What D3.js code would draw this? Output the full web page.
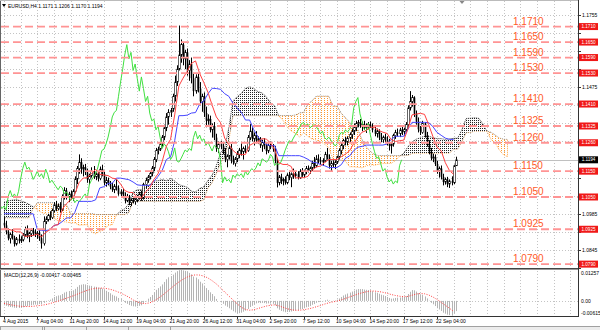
<!DOCTYPE html>
<html><head><meta charset="utf-8">
<script src="https://cdn.jsdelivr.net/npm/d3@7"></script>
<style>body{margin:0;background:#fff}svg{display:block}text{font-family:"Liberation Sans",Arial,sans-serif}</style>
</head><body><svg id="c" width="600" height="330"></svg>
<script>
// ---------- DATA ----------
const title = "EURUSD,H4  1.1171 1.1206 1.1170 1.1194";
const macdTitle = "MACD(12,26,9) -0.00417 -0.00465";
// H4 candles [open, high, low, close], bar 0 = 4 Aug 2015 12:00
const candles = [
[1.0950,1.0972,1.0928,1.0940],[1.0940,1.0958,1.0905,1.0915],[1.0915,1.0930,1.0882,1.0890],
[1.0890,1.0912,1.0870,1.0905],[1.0905,1.0925,1.0885,1.0892],[1.0892,1.0900,1.0858,1.0868],[1.0868,1.0895,1.0862,1.0888],[1.0888,1.0905,1.0870,1.0880],[1.0880,1.0898,1.0872,1.0885],
[1.0885,1.0910,1.0878,1.0902],[1.0902,1.0935,1.0895,1.0925],[1.0925,1.0940,1.0890,1.0898],[1.0898,1.0915,1.0875,1.0908],[1.0908,1.0928,1.0895,1.0920],[1.0920,1.0930,1.0900,1.0915],
[1.0915,1.0925,1.0895,1.0905],[1.0905,1.0918,1.0888,1.0910],[1.0910,1.0922,1.0880,1.0890],[1.0890,1.0905,1.0850,1.0870],[1.0870,1.0975,1.0862,1.0955],[1.0955,1.0975,1.0945,1.0965],
[1.0962,1.0985,1.0955,1.0978],[1.0978,1.0995,1.0960,1.0970],[1.0970,1.1005,1.0965,1.0998],[1.0998,1.1030,1.0990,1.1020],[1.1020,1.1035,1.0995,1.1005],[1.1005,1.1025,1.0998,1.1015],
[1.1015,1.1030,1.0990,1.1000],[1.1000,1.1060,1.0995,1.1052],[1.1052,1.1088,1.1040,1.1075],[1.1075,1.1085,1.1040,1.1050],[1.1050,1.1070,1.1030,1.1062],[1.1062,1.1075,1.1040,1.1045],
[1.1045,1.1080,1.1035,1.1072],[1.1072,1.1130,1.1065,1.1120],[1.1120,1.1170,1.1100,1.1160],[1.1160,1.1215,1.1140,1.1185],[1.1185,1.1200,1.1140,1.1158],[1.1158,1.1175,1.1130,1.1165],
[1.1165,1.1178,1.1135,1.1145],[1.1145,1.1160,1.1105,1.1118],[1.1118,1.1140,1.1098,1.1132],[1.1132,1.1165,1.1125,1.1150],[1.1150,1.1170,1.1120,1.1128],[1.1128,1.1145,1.1115,1.1140],
[1.1140,1.1150,1.1110,1.1122],[1.1122,1.1168,1.1115,1.1158],[1.1158,1.1175,1.1130,1.1138],[1.1138,1.1150,1.1095,1.1105],[1.1105,1.1128,1.1090,1.1115],[1.1115,1.1125,1.1095,1.1102],
[1.1100,1.1112,1.1080,1.1090],[1.1090,1.1105,1.1070,1.1078],[1.1078,1.1100,1.1065,1.1092],[1.1092,1.1118,1.1075,1.1085],[1.1085,1.1095,1.1055,1.1062],[1.1062,1.1080,1.1050,1.1070],
[1.1070,1.1082,1.1045,1.1055],[1.1055,1.1068,1.1025,1.1035],[1.1035,1.1062,1.1030,1.1050],[1.1050,1.1058,1.1018,1.1028],[1.1028,1.1045,1.1015,1.1038],[1.1038,1.1048,1.1025,1.1032],
[1.1032,1.1045,1.1020,1.1040],[1.1040,1.1058,1.1030,1.1052],[1.1052,1.1070,1.1040,1.1062],[1.1062,1.1075,1.1035,1.1045],[1.1045,1.1105,1.1040,1.1098],[1.1098,1.1125,1.1085,1.1115],
[1.1115,1.1135,1.1105,1.1128],[1.1128,1.1150,1.1118,1.1142],[1.1142,1.1170,1.1130,1.1162],[1.1162,1.1205,1.1150,1.1195],[1.1195,1.1240,1.1185,1.1230],[1.1230,1.1245,1.1215,1.1235],
[1.1235,1.1262,1.1228,1.1255],[1.1255,1.1290,1.1245,1.1282],[1.1282,1.1330,1.1270,1.1318],[1.1318,1.1375,1.1305,1.1360],[1.1360,1.1390,1.1330,1.1378],[1.1378,1.1395,1.1360,1.1385],
[1.1390,1.1450,1.1380,1.1440],[1.1440,1.1520,1.1420,1.1495],[1.1495,1.1560,1.1480,1.1545],[1.1545,1.1714,1.1540,1.1600],[1.1600,1.1660,1.1570,1.1640],[1.1640,1.1650,1.1560,1.1585],
[1.1585,1.1620,1.1545,1.1610],[1.1610,1.1625,1.1520,1.1540],[1.1540,1.1580,1.1500,1.1565],[1.1565,1.1590,1.1490,1.1510],[1.1510,1.1530,1.1440,1.1460],[1.1460,1.1525,1.1450,1.1515],
[1.1515,1.1530,1.1455,1.1470],[1.1470,1.1495,1.1405,1.1420],[1.1420,1.1450,1.1380,1.1440],[1.1440,1.1455,1.1360,1.1375],[1.1375,1.1400,1.1320,1.1345],[1.1345,1.1370,1.1330,1.1352],
[1.1352,1.1365,1.1300,1.1310],[1.1310,1.1335,1.1280,1.1325],[1.1325,1.1340,1.1270,1.1280],[1.1280,1.1295,1.1225,1.1238],[1.1238,1.1265,1.1220,1.1255],[1.1255,1.1268,1.1235,1.1245],
[1.1245,1.1262,1.1215,1.1225],[1.1225,1.1240,1.1185,1.1195],[1.1195,1.1215,1.1165,1.1208],[1.1208,1.1250,1.1195,1.1240],[1.1240,1.1255,1.1180,1.1190],[1.1190,1.1210,1.1175,1.1185],
[1.1180,1.1205,1.1168,1.1198],[1.1198,1.1228,1.1185,1.1215],[1.1215,1.1240,1.1200,1.1232],[1.1232,1.1262,1.1210,1.1225],[1.1225,1.1245,1.1195,1.1238],[1.1238,1.1250,1.1220,1.1230],
[1.1230,1.1290,1.1225,1.1280],[1.1280,1.1332,1.1270,1.1305],[1.1305,1.1320,1.1265,1.1275],[1.1275,1.1300,1.1250,1.1290],[1.1290,1.1305,1.1258,1.1268],[1.1268,1.1285,1.1255,1.1275],
[1.1275,1.1282,1.1240,1.1250],[1.1250,1.1272,1.1225,1.1262],[1.1262,1.1278,1.1235,1.1245],[1.1245,1.1262,1.1215,1.1228],[1.1228,1.1258,1.1220,1.1250],[1.1250,1.1265,1.1235,1.1242],
[1.1242,1.1255,1.1225,1.1235],[1.1235,1.1248,1.1180,1.1190],[1.1190,1.1200,1.1087,1.1105],[1.1105,1.1135,1.1095,1.1128],[1.1128,1.1140,1.1100,1.1112],[1.1112,1.1125,1.1095,1.1118],
[1.1118,1.1130,1.1098,1.1105],[1.1105,1.1142,1.1100,1.1135],[1.1135,1.1150,1.1115,1.1125],[1.1125,1.1145,1.1088,1.1140],[1.1140,1.1160,1.1120,1.1132],[1.1132,1.1148,1.1122,1.1140],
[1.1138,1.1150,1.1118,1.1125],[1.1125,1.1158,1.1120,1.1150],[1.1150,1.1162,1.1128,1.1135],[1.1135,1.1155,1.1125,1.1148],[1.1148,1.1170,1.1138,1.1160],[1.1160,1.1172,1.1145,1.1152],
[1.1152,1.1168,1.1140,1.1162],[1.1162,1.1190,1.1150,1.1182],[1.1182,1.1205,1.1160,1.1170],[1.1170,1.1212,1.1165,1.1198],[1.1198,1.1215,1.1180,1.1192],[1.1192,1.1205,1.1175,1.1185],
[1.1185,1.1200,1.1170,1.1192],[1.1192,1.1225,1.1185,1.1215],[1.1215,1.1240,1.1195,1.1205],[1.1205,1.1215,1.1160,1.1172],[1.1172,1.1190,1.1150,1.1180],[1.1180,1.1192,1.1165,1.1175],
[1.1175,1.1192,1.1158,1.1185],[1.1185,1.1210,1.1178,1.1205],[1.1205,1.1238,1.1195,1.1230],[1.1230,1.1262,1.1215,1.1250],[1.1250,1.1275,1.1235,1.1268],[1.1268,1.1282,1.1250,1.1262],
[1.1262,1.1285,1.1250,1.1278],[1.1278,1.1300,1.1262,1.1292],[1.1292,1.1315,1.1275,1.1305],[1.1305,1.1335,1.1290,1.1320],[1.1320,1.1345,1.1305,1.1335],[1.1335,1.1348,1.1320,1.1338],
[1.1338,1.1352,1.1318,1.1325],[1.1325,1.1342,1.1305,1.1332],[1.1332,1.1345,1.1310,1.1318],[1.1318,1.1335,1.1298,1.1325],[1.1325,1.1340,1.1312,1.1330],[1.1330,1.1342,1.1318,1.1322],
[1.1322,1.1335,1.1300,1.1310],[1.1310,1.1325,1.1285,1.1295],[1.1295,1.1315,1.1280,1.1305],[1.1305,1.1312,1.1270,1.1280],[1.1280,1.1298,1.1262,1.1272],[1.1272,1.1288,1.1260,1.1282],
[1.1282,1.1295,1.1262,1.1270],[1.1270,1.1285,1.1250,1.1260],[1.1260,1.1275,1.1230,1.1248],[1.1248,1.1262,1.1218,1.1255],[1.1255,1.1295,1.1245,1.1288],[1.1288,1.1310,1.1275,1.1300],
[1.1300,1.1315,1.1285,1.1295],[1.1295,1.1318,1.1282,1.1310],[1.1310,1.1322,1.1290,1.1302],[1.1302,1.1318,1.1288,1.1312],[1.1312,1.1340,1.1300,1.1330],[1.1330,1.1405,1.1320,1.1395],
[1.1395,1.1460,1.1385,1.1420],[1.1420,1.1445,1.1400,1.1435],[1.1435,1.1440,1.1360,1.1372],[1.1372,1.1385,1.1330,1.1342],[1.1342,1.1358,1.1300,1.1312],[1.1312,1.1325,1.1290,1.1305],
[1.1300,1.1345,1.1295,1.1335],[1.1335,1.1340,1.1280,1.1290],[1.1290,1.1302,1.1245,1.1255],[1.1255,1.1270,1.1215,1.1225],[1.1225,1.1240,1.1192,1.1200],[1.1200,1.1218,1.1185,1.1205],
[1.1205,1.1215,1.1170,1.1178],[1.1178,1.1190,1.1140,1.1150],[1.1150,1.1168,1.1125,1.1160],[1.1160,1.1172,1.1118,1.1128],[1.1128,1.1140,1.1095,1.1108],[1.1108,1.1125,1.1098,1.1118],
[1.1118,1.1128,1.1088,1.1100],[1.1100,1.1118,1.1085,1.1112],[1.1112,1.1130,1.1095,1.1105],[1.1105,1.1175,1.1100,1.1171],[1.1171,1.1206,1.1170,1.1194]
];
// Ichimoku lines, one value every 2 bars (bar 0,2,4,...)
const lineStep = 2;
const tenkan = [1.0930,1.0925,1.0921,1.0915,1.0915,1.0897,1.0899,1.0901,1.0906,1.0895,1.0913,1.0923,1.0940,1.0943,1.1003,1.1024,1.1039,1.1060,1.1105,1.1123,1.1125,1.1140,1.1157,1.1138,1.1135,1.1133,1.1123,1.1120,1.1100,1.1075,1.1068,1.1067,1.1049,1.1045,1.1070,1.1085,1.1118,1.1140,1.1188,1.1247,1.1273,1.1368,1.1480,1.1510,1.1537,1.1567,1.1577,1.1528,1.1493,1.1455,1.1405,1.1360,1.1338,1.1278,1.1253,1.1230,1.1217,1.1214,1.1215,1.1250,1.1259,1.1264,1.1276,1.1274,1.1260,1.1233,1.1183,1.1176,1.1176,1.1168,1.1124,1.1124,1.1125,1.1130,1.1154,1.1166,1.1170,1.1183,1.1195,1.1195,1.1195,1.1206,1.1216,1.1229,1.1257,1.1282,1.1301,1.1307,1.1321,1.1319,1.1308,1.1301,1.1296,1.1272,1.1265,1.1268,1.1270,1.1312,1.1368,1.1371,1.1374,1.1370,1.1330,1.1285,1.1243,1.1229,1.1183,1.1152,1.1138];
const kijun = [1.0985,1.0985,1.0985,1.0985,1.0985,1.0985,1.0985,1.0985,1.0924,1.0920,1.0920,1.0923,1.0940,1.0943,1.0955,1.0969,1.0969,1.0990,1.1033,1.1033,1.1033,1.1033,1.1039,1.1085,1.1090,1.1103,1.1103,1.1123,1.1123,1.1120,1.1117,1.1108,1.1097,1.1095,1.1095,1.1095,1.1110,1.1130,1.1153,1.1195,1.1205,1.1268,1.1365,1.1365,1.1367,1.1375,1.1377,1.1410,1.1422,1.1450,1.1471,1.1470,1.1467,1.1450,1.1440,1.1413,1.1395,1.1378,1.1348,1.1348,1.1310,1.1283,1.1265,1.1253,1.1249,1.1249,1.1210,1.1210,1.1210,1.1210,1.1210,1.1210,1.1204,1.1196,1.1185,1.1183,1.1176,1.1171,1.1164,1.1164,1.1164,1.1175,1.1200,1.1209,1.1230,1.1243,1.1246,1.1251,1.1251,1.1251,1.1251,1.1251,1.1255,1.1273,1.1285,1.1285,1.1285,1.1312,1.1339,1.1339,1.1339,1.1339,1.1338,1.1323,1.1300,1.1289,1.1278,1.1273,1.1273];
// Senkou spans as plotted (already shifted 26 bars ahead), one value every 2 bars
const spanA = [1.1030,1.1035,1.1038,1.1040,1.1035,1.1030,1.1022,1.1012,1.1000,1.0990,1.0985,1.0978,1.0968,1.0958,1.0955,1.0953,1.0950,1.0950,1.0941,1.0942,1.0943,1.0915,1.0908,1.0917,1.0923,1.0940,1.0943,1.0979,1.0997,1.1004,1.1025,1.1069,1.1078,1.1079,1.1087,1.1098,1.1112,1.1113,1.1118,1.1113,1.1122,1.1112,1.1098,1.1093,1.1088,1.1073,1.1070,1.1083,1.1090,1.1114,1.1135,1.1171,1.1221,1.1239,1.1318,1.1423,1.1438,1.1452,1.1471,1.1477,1.1469,1.1458,1.1453,1.1438,1.1415,1.1403,1.1364,1.1347,1.1322,1.1306,1.1296,1.1282,1.1299,1.1285,1.1274,1.1271,1.1264,1.1255,1.1241,1.1197,1.1193,1.1193,1.1189,1.1167,1.1167,1.1165,1.1163,1.1170,1.1175,1.1173,1.1177,1.1180,1.1180,1.1180,1.1191,1.1208,1.1219,1.1244,1.1263,1.1274,1.1279,1.1286,1.1285,1.1280,1.1276,1.1276,1.1273,1.1275,1.1277,1.1278,1.1312,1.1354,1.1355,1.1357,1.1355,1.1334,1.1304,1.1272,1.1259,1.1231,1.1213,1.1206];
const spanB = [1.0969,1.0969,1.0969,1.0969,1.0969,1.0969,1.0969,1.1005,1.1027,1.1027,1.1027,1.1027,1.1027,1.1020,1.1020,1.1020,1.0986,1.0986,1.0986,1.0986,1.0986,1.0986,1.0982,1.0982,1.0982,1.0982,1.0982,1.0982,1.0982,1.0982,1.0990,1.1033,1.1033,1.1033,1.1033,1.1033,1.1033,1.1033,1.1033,1.1033,1.1033,1.1033,1.1033,1.1033,1.1033,1.1033,1.1033,1.1033,1.1039,1.1085,1.1105,1.1140,1.1183,1.1205,1.1268,1.1365,1.1365,1.1365,1.1365,1.1365,1.1365,1.1365,1.1365,1.1365,1.1365,1.1365,1.1365,1.1365,1.1365,1.1365,1.1367,1.1375,1.1377,1.1410,1.1422,1.1440,1.1440,1.1440,1.1440,1.1401,1.1401,1.1374,1.1356,1.1339,1.1309,1.1309,1.1271,1.1244,1.1226,1.1214,1.1210,1.1210,1.1210,1.1210,1.1210,1.1210,1.1210,1.1211,1.1218,1.1220,1.1220,1.1220,1.1220,1.1220,1.1220,1.1220,1.1220,1.1220,1.1235,1.1235,1.1265,1.1299,1.1300,1.1305,1.1305,1.1305,1.1305,1.1300,1.1289,1.1278,1.1273,1.1273];
const chikouShift = 26;
// MACD main (histogram), one value per bar
const macdHist = [-0.0018,-0.0020,-0.0023,-0.0025,-0.0026,-0.0028,-0.0029,-0.0029,-0.0028,-0.0026,
-0.0022,-0.0021,-0.0020,-0.0018,-0.0016,-0.0015,-0.0013,-0.0013,-0.0014,-0.0008,
-0.0003,0.0002,0.0005,0.0010,0.0016,0.0019,0.0022,0.0023,0.0028,0.0034,
0.0037,0.0040,0.0041,0.0043,0.0049,0.0057,0.0064,0.0066,0.0068,0.0067,
0.0064,0.0062,0.0061,0.0058,0.0057,0.0054,0.0053,0.0050,0.0045,0.0041,
0.0036,0.0031,0.0025,0.0021,0.0018,0.0012,0.0008,0.0003,-0.0008,-0.0012,
-0.0017,-0.0020,-0.0022,-0.0023,-0.0022,-0.0020,-0.0018,-0.0010,-0.0002,0.0009,
0.0016,0.0024,0.0034,0.0045,0.0052,0.0059,0.0067,0.0077,0.0088,0.0096,
0.0101,0.0107,0.0115,0.0121,0.0125,0.0126,0.0124,0.0122,0.0118,0.0114,
0.0108,0.0099,0.0095,0.0088,0.0078,0.0071,0.0062,0.0052,0.0044,0.0035,
0.0028,0.0019,0.0008,0.0000,-0.0006,-0.0012,-0.0019,-0.0024,-0.0030,-0.0036,
-0.0042,-0.0047,-0.0050,-0.0050,-0.0048,-0.0044,-0.0040,-0.0033,-0.0025,-0.0020,
-0.0015,-0.0010,-0.0008,-0.0009,-0.0008,-0.0009,-0.0011,-0.0010,-0.0011,-0.0012,
-0.0018,-0.0030,-0.0036,-0.0041,-0.0043,-0.0046,-0.0045,-0.0045,-0.0043,-0.0041,
-0.0039,-0.0038,-0.0034,-0.0033,-0.0030,-0.0026,-0.0024,-0.0021,-0.0016,-0.0013,
-0.0008,-0.0005,-0.0003,-0.0001,0.0003,0.0005,0.0002,0.0000,0.0001,0.0002,
0.0005,0.0010,0.0016,0.0022,0.0026,0.0030,0.0034,0.0038,0.0042,0.0046,
0.0048,0.0048,0.0048,0.0046,0.0045,0.0044,0.0042,0.0039,0.0035,0.0033,
0.0029,0.0025,0.0023,0.0020,0.0016,0.0012,0.0009,0.0010,0.0012,0.0013,
0.0014,0.0015,0.0016,0.0019,0.0028,0.0037,0.0044,0.0043,0.0038,0.0032,
0.0027,0.0025,0.0018,0.0010,0.0001,-0.0008,-0.0014,-0.0021,-0.0030,-0.0035,
-0.0041,-0.0048,-0.0052,-0.0056,-0.0058,-0.0060,-0.0051,-0.00417];
// MACD signal, one value every 2 bars
const macdSignal = [-0.0010,-0.0014,-0.0017,-0.0020,-0.0022,-0.0023,-0.0023,-0.0022,-0.0020,-0.0018,
-0.0015,-0.0011,-0.0006,-0.0001,0.0005,0.0011,0.0017,0.0023,0.0030,0.0037,
0.0043,0.0048,0.0051,0.0052,0.0052,0.0049,0.0045,0.0039,0.0032,0.0024,
0.0015,0.0004,-0.0004,-0.0010,-0.0011,-0.0008,-0.0001,0.0010,0.0022,0.0036,
0.0050,0.0064,0.0077,0.0088,0.0097,0.0103,0.0106,0.0105,0.0101,0.0093,
0.0082,0.0069,0.0053,0.0036,0.0020,0.0004,-0.0012,-0.0026,-0.0035,-0.0038,
-0.0036,-0.0031,-0.0026,-0.0021,-0.0018,-0.0016,-0.0020,-0.0026,-0.0032,-0.0036,
-0.0038,-0.0038,-0.0036,-0.0033,-0.0029,-0.0024,-0.0019,-0.0013,-0.0008,-0.0004,
-0.0001,0.0004,0.0010,0.0016,0.0022,0.0028,0.0033,0.0037,0.0040,0.0040,
0.0038,0.0035,0.0031,0.0026,0.0022,0.0019,0.0017,0.0018,0.0023,0.0028,
0.0030,0.0029,0.0024,0.0016,0.0006,-0.0006,-0.0018,-0.0030,-0.0043];
const levels = [1.1710,1.1650,1.1590,1.1530,1.1410,1.1325,1.1260,1.1150,1.1050,1.0925,1.0790];
const levelLabels = ["1.1710","1.1650","1.1590","1.1530","1.1410","1.1325","1.1260","1.1150","1.1050","1.0925","1.0790"];
const lastPrice = 1.1194;
const priceTicks = [1.1755,1.1685,1.1615,1.1545,1.1475,1.1405,1.1335,1.1265,1.1195,1.1125,1.1055,1.0985,1.0915,1.0845,1.0775];
const macdTicks = [0.01257,0.00,-0.00615];
const macdTickLabels = ["0.01257","0.00","-0.00615"];
const timeLabelBars = [0,16,32,48,64,80,96,112,128,144,160,176,192,208];
const timeLabels = ["4 Aug 2015","7 Aug 04:00","11 Aug 20:00","14 Aug 12:00","19 Aug 04:00","21 Aug 20:00","26 Aug 12:00","31 Aug 04:00","2 Sep 20:00","7 Sep 12:00","10 Sep 04:00","14 Sep 20:00","17 Sep 12:00","22 Sep 04:00"];

// ---------- DRAW ----------
const svg = d3.select('#c');
svg.append('rect').attr('width',600).attr('height',330).attr('fill','#fff');
const x = d3.scaleLinear().domain([0,208]).range([4,437]);
const y = d3.scaleLinear().domain([1.0775,1.1809]).range([268,1]);
const ym = d3.scaleLinear().domain([-0.00615,0.01257]).range([316,270]);
const px = b => Math.round(x(b)) + 0.5;
const RIGHT = 578;

const defs = svg.append('defs');
defs.append('clipPath').attr('id','cm').append('rect').attr('x',1).attr('y',1).attr('width',RIGHT-1).attr('height',267);
defs.append('clipPath').attr('id','cd').append('rect').attr('x',1).attr('y',270).attr('width',RIGHT-1).attr('height',46);
[['pd','#222',2,2],['po','#ff9a30',3,2]].forEach(([id,c,w,h])=>{
  const p = defs.append('pattern').attr('id',id).attr('patternUnits','userSpaceOnUse').attr('width',w).attr('height',h);
  p.append('rect').attr('width',1).attr('height',1).attr('fill',c).attr('shape-rendering','crispEdges');
});
const cloud = spanA.map((a,k)=>({b:k*lineStep, a, s:spanB[k]}));
defs.append('clipPath').attr('id','aboveB').append('path')
  .attr('d', d3.area().x(d=>x(d.b)).y0(0).y1(d=>y(d.s))(cloud));
defs.append('clipPath').attr('id','belowB').append('path')
  .attr('d', d3.area().x(d=>x(d.b)).y0(d=>y(d.s)).y1(300)(cloud));

// grid
const grid = svg.append('g').attr('stroke','#c4c4c4').attr('stroke-dasharray','1,2');
priceTicks.forEach(p=>{
  const yy = Math.round(y(p))+0.5;
  grid.append('line').attr('x1',1).attr('x2',RIGHT).attr('y1',yy).attr('y2',yy);
});
d3.range(0, 276, 8).forEach(b=>{
  if (x(b) >= RIGHT) return;
  grid.append('line').attr('x1',px(b)).attr('x2',px(b)).attr('y1',1).attr('y2',268);
  grid.append('line').attr('x1',px(b)).attr('x2',px(b)).attr('y1',271).attr('y2',316);
});
grid.append('line').attr('x1',1).attr('x2',RIGHT).attr('y1',Math.round(ym(0))+0.5).attr('y2',Math.round(ym(0))+0.5);

const main = svg.append('g').attr('clip-path','url(#cm)');
// bid line
main.append('line').attr('x1',1).attr('x2',RIGHT).attr('y1',Math.round(y(lastPrice))+0.5).attr('y2',Math.round(y(lastPrice))+0.5).attr('stroke','#c0c0c0');

// cloud
const areaAB = d3.area().x(d=>x(d.b)).y0(d=>y(d.s)).y1(d=>y(d.a));
main.append('g').attr('clip-path','url(#aboveB)').append('path').attr('d',areaAB(cloud))
  .attr('fill','url(#pd)').attr('stroke','#222').attr('stroke-width',0.8).attr('stroke-dasharray','1,1');
main.append('g').attr('clip-path','url(#belowB)').append('path').attr('d',areaAB(cloud))
  .attr('fill','url(#po)').attr('stroke','#ff9a30').attr('stroke-width',0.8).attr('stroke-dasharray','1,1');

// candles
const cg = main.append('g');
cg.selectAll('line.w').data(candles).join('line').attr('class','w')
  .attr('x1',(d,i)=>px(i)).attr('x2',(d,i)=>px(i))
  .attr('y1',d=>y(d[1])).attr('y2',d=>y(d[2])).attr('stroke','#000').attr('stroke-width',1);
cg.selectAll('rect').data(candles).join('rect')
  .attr('x',(d,i)=>px(i)-0.8).attr('width',1.6)
  .attr('y',d=>y(Math.max(d[0],d[3])))
  .attr('height',d=>Math.max(0.8, Math.abs(y(d[0])-y(d[3]))))
  .attr('fill',d=>d[3]>=d[0]?'#fff':'#000')
  .attr('stroke','#000').attr('stroke-width',d=>d[3]>=d[0]?0.6:0);

// ichimoku lines
const lineGen = d3.line().x(d=>x(d[0])).y(d=>y(d[1]));
main.append('path').attr('d', lineGen(candles.map((c,i)=>[i-chikouShift, c[3]])))
  .attr('fill','none').attr('stroke','#3fe03f').attr('stroke-width',1);
main.append('path').attr('d', lineGen(kijun.map((v,k)=>[k*lineStep, v])))
  .attr('fill','none').attr('stroke','#4646ff').attr('stroke-width',1);
main.append('path').attr('d', lineGen(tenkan.map((v,k)=>[k*lineStep, v])))
  .attr('fill','none').attr('stroke','#ff4040').attr('stroke-width',1);

// levels
levels.forEach((l,i)=>{
  const yy = y(l);
  main.append('line').attr('x1',1).attr('x2',RIGHT).attr('y1',yy).attr('y2',yy)
    .attr('stroke','#ff9494').attr('stroke-width',1.8).attr('stroke-dasharray','8,4');
  main.append('text').attr('x',513).attr('y',yy-2).attr('font-size',10).attr('fill','#ff5a28').text(levelLabels[i]);
});

// MACD panel
const dp = svg.append('g').attr('clip-path','url(#cd)');
dp.selectAll('line').data(macdHist).join('line')
  .attr('x1',(d,i)=>px(i)).attr('x2',(d,i)=>px(i))
  .attr('y1',ym(0)).attr('y2',d=>ym(d)).attr('stroke','#b4b4b4').attr('stroke-width',1);
dp.append('path').attr('d', d3.line().x(d=>x(d[0])).y(d=>ym(d[1]))(macdSignal.map((v,k)=>[k*lineStep,v])))
  .attr('fill','none').attr('stroke','#ff3c3c').attr('stroke-width',1).attr('stroke-dasharray','1,1.5');

// frames
svg.append('line').attr('x1',0.5).attr('x2',0.5).attr('y1',0).attr('y2',317).attr('stroke','#666');
svg.append('line').attr('x1',0).attr('x2',RIGHT).attr('y1',0.5).attr('y2',0.5).attr('stroke','#bbb');
svg.append('line').attr('x1',0).attr('x2',RIGHT).attr('y1',268.5).attr('y2',268.5).attr('stroke','#444');
svg.append('line').attr('x1',0).attr('x2',RIGHT).attr('y1',269.5).attr('y2',269.5).attr('stroke','#999');
svg.append('line').attr('x1',0).attr('x2',RIGHT+1).attr('y1',316.5).attr('y2',316.5).attr('stroke','#333');
svg.append('line').attr('x1',RIGHT+0.5).attr('x2',RIGHT+0.5).attr('y1',0).attr('y2',317).attr('stroke','#333');

// price axis (labels hidden where the reference covers them with a price tag)
const tagPrices = levels.concat([lastPrice]);
const ax = svg.append('g').attr('font-size',5).attr('fill','#000');
priceTicks.forEach(p=>{
  const yy = y(p);
  ax.append('line').attr('x1',RIGHT).attr('x2',RIGHT+3).attr('y1',Math.round(yy)+0.5).attr('y2',Math.round(yy)+0.5).attr('stroke','#333');
  const covered = tagPrices.some(t=>Math.abs(y(t)-yy) < 7);
  if (!covered) ax.append('text').attr('x',582).attr('y',yy+1.8).text(p.toFixed(4));
});
macdTicks.forEach((v,i)=>{
  ax.append('text').attr('x',581).attr('y',Math.min(315,Math.max(274.5,ym(v)+1.8))).text(macdTickLabels[i]);
});
// level tags
levels.forEach((l,i)=>{
  const yy = y(l);
  svg.append('rect').attr('x',579).attr('y',yy-3.5).attr('width',19).attr('height',7).attr('fill','#f01818');
  svg.append('text').attr('x',588.5).attr('y',yy+1.6).attr('text-anchor','middle').attr('font-size',4.6).attr('fill','#fff').text(levelLabels[i]);
});
svg.append('rect').attr('x',579).attr('y',y(lastPrice)-3.5).attr('width',19).attr('height',7).attr('fill','#000');
svg.append('text').attr('x',588.5).attr('y',y(lastPrice)+1.6).attr('text-anchor','middle').attr('font-size',4.6).attr('fill','#fff').text(lastPrice.toFixed(4));

// time axis
const tx = svg.append('g');
timeLabelBars.forEach((b,i)=>{
  tx.append('line').attr('x1',px(b)).attr('x2',px(b)).attr('y1',316).attr('y2',319).attr('stroke','#333');
  tx.append('text').attr('x',x(b)-1).attr('y',323).attr('font-size',5).attr('fill','#000').text(timeLabels[i]);
});

// titles
svg.append('path').attr('d','M2,4 L6,4 L4,7 Z').attr('fill','#000');
svg.append('text').attr('x',8).attr('y',7.5).attr('font-size',5).attr('fill','#000').text(title);
svg.append('text').attr('x',4).attr('y',277).attr('font-size',5).attr('fill','#000').text(macdTitle);
svg.append('path').attr('d','M459.5,1 L464.5,1 L462,4 Z').attr('fill','#888');

// bottom tab strip
svg.append('rect').attr('x',0).attr('y',326).attr('width',600).attr('height',4).attr('fill','#ececec');
svg.append('line').attr('x1',0).attr('x2',600).attr('y1',326.5).attr('y2',326.5).attr('stroke','#a0a0a0');
[0,44,86,128].forEach(t=>svg.append('rect').attr('x',t+0.5).attr('y',326.5).attr('width',42).attr('height',4).attr('fill','none').attr('stroke','#a0a0a0'));
</script>
</body></html>
